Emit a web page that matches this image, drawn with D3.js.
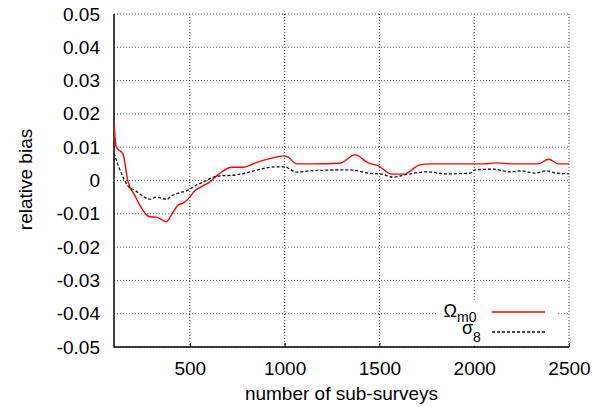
<!DOCTYPE html>
<html>
<head>
<meta charset="utf-8">
<script src="https://cdn.jsdelivr.net/npm/d3@7"></script>
<style>
  html, body { margin: 0; padding: 0; background: #fff; }
  svg { display: block; font-family: "Liberation Sans", Arial, Helvetica, sans-serif; }
</style>
</head>
<body>
<svg id="chart" width="602" height="407"></svg>
<script>
// ---- data ----
const xTicks = [500, 1000, 1500, 2000, 2500];
const xGrid = [100, 500, 1000, 1500, 2000, 2500];
const yTicks = [0.05, 0.04, 0.03, 0.02, 0.01, 0, -0.01, -0.02, -0.03, -0.04, -0.05];

const omegaX = [100,112,147,174,209,236,288,323,376,402,438,464,490,526,560,606,659,721,782,861,932,993,1019,1064,1134,1292,1371,1442,1495,1565,1627,1714,1767,1900,2050,2118,2200,2339,2392,2445,2500];
const omegaY = [0.0172,0.0100,0.0080,-0.0004,-0.0044,-0.0074,-0.0109,-0.0110,-0.0124,-0.0104,-0.0074,-0.0068,-0.0056,-0.0031,-0.0019,-0.0004,0.0022,0.0040,0.0040,0.0056,0.0067,0.0074,0.0070,0.0050,0.0050,0.0052,0.0077,0.0053,0.0044,0.0019,0.0019,0.0047,0.0050,0.0050,0.0050,0.0053,0.0050,0.0050,0.0064,0.0050,0.0050];

const sigmaX = [100,121,147,174,209,253,288,323,376,411,447,490,534,570,642,747,817,879,958,1002,1028,1064,1134,1345,1442,1512,1573,1635,1749,1855,1978,2004,2100,2189,2250,2320,2382,2435,2500];
const sigmaY = [0.0082,0.0047,0.0011,-0.0017,-0.0029,-0.0047,-0.0056,-0.0050,-0.0056,-0.0044,-0.0037,-0.0029,-0.0014,-0.0005,0.0013,0.0017,0.0026,0.0035,0.0041,0.0041,0.0034,0.0025,0.0029,0.0032,0.0022,0.0019,0.0010,0.0017,0.0026,0.0020,0.0022,0.0032,0.0034,0.0026,0.0029,0.0022,0.0029,0.0022,0.0020];

// ---- layout ----
const svg = d3.select("#chart");
const L = 114, R = 569, T = 14, B = 347;
const x = d3.scaleLinear().domain([100, 2500]).range([L, R]);
const y = d3.scaleLinear().domain([-0.05, 0.05]).range([B, T]);
const FS = 19;

// grid
const grid = svg.append("g");
grid.selectAll("line.h").data(yTicks).join("line")
  .attr("x1", L).attr("x2", R)
  .attr("y1", d => y(d)).attr("y2", d => y(d))
  .attr("stroke", "#666").attr("stroke-width", 1).attr("stroke-dasharray", "1,2");
grid.selectAll("line.v").data(xGrid.slice(1)).join("line")
  .attr("x1", d => x(d)).attr("x2", d => x(d))
  .attr("y1", T).attr("y2", B)
  .attr("stroke", "#444").attr("stroke-width", 1).attr("stroke-dasharray", "1,2");

// axes
const xAxis = d3.axisBottom(x).tickValues(xTicks).tickSize(0).tickPadding(0).tickFormat(d3.format("d"));
const gx = svg.append("g").attr("transform", `translate(0,${B})`).call(xAxis);
gx.select(".domain").remove();
gx.selectAll("text").attr("font-size", FS).attr("fill", "#000").attr("dy", null).attr("y", 28)
  .attr("font-family", "Liberation Sans, Arial, sans-serif");
gx.selectAll(".tick").append("line").attr("y1", 0).attr("y2", -4).attr("stroke", "#000");

const yAxis = d3.axisLeft(y).tickValues(yTicks).tickSize(0).tickPadding(14)
  .tickFormat(d => d === 0 ? "0" : d.toFixed(2));
const gy = svg.append("g").attr("transform", `translate(${L},0)`).call(yAxis);
gy.select(".domain").remove();
gy.selectAll("text").attr("font-size", FS).attr("fill", "#000")
  .attr("font-family", "Liberation Sans, Arial, sans-serif");

// axis frame lines
svg.append("line").attr("x1", L).attr("x2", L).attr("y1", T).attr("y2", B + 0.5)
  .attr("stroke", "#000").attr("stroke-width", 1.5);
svg.append("line").attr("x1", L).attr("x2", R).attr("y1", B).attr("y2", B)
  .attr("stroke", "#000").attr("stroke-width", 1.5);

// titles
svg.append("text").attr("x", (L + R) / 2).attr("y", 400).attr("text-anchor", "middle")
  .attr("font-size", FS).text("number of sub-surveys");
svg.append("text").attr("transform", `translate(32,${(T + B) / 2 - 1}) rotate(-90)`)
  .attr("text-anchor", "middle").attr("font-size", FS).text("relative bias");

// lines
svg.append("clipPath").attr("id", "clip").append("rect")
  .attr("x", L).attr("y", T).attr("width", R - L).attr("height", B - T);
const line = d3.line().x(d => x(d[0])).y(d => y(d[1])).curve(d3.curveMonotoneX);
const omega = omegaX.map((v, i) => [v, omegaY[i]]);
const sigma = sigmaX.map((v, i) => [v, sigmaY[i]]);

// legend background
svg.append("rect").attr("x", 438).attr("y", 301).attr("width", 120).attr("height", B - 301 - 1)
  .attr("fill", "#fff");

svg.append("path").datum(omega).attr("d", line).attr("clip-path", "url(#clip)")
  .attr("fill", "none").attr("stroke", "#ff0000").attr("stroke-width", 1.4);
svg.append("path").datum(sigma).attr("d", line).attr("clip-path", "url(#clip)")
  .attr("fill", "none").attr("stroke", "#111").attr("stroke-width", 1.3).attr("stroke-dasharray", "3,2");

// legend (separate text pieces so the tight stacking mirrors the reference)
const lg = svg.append("g");
lg.append("text").attr("x", 457).attr("y", 317).attr("text-anchor", "end").attr("font-size", 18).text("Ω");
lg.append("text").attr("x", 457).attr("y", 322).attr("text-anchor", "start").attr("font-size", 14).text("m0");
lg.append("text").attr("x", 473).attr("y", 334).attr("text-anchor", "end").attr("font-size", 18).text("σ");
lg.append("text").attr("x", 473).attr("y", 342).attr("text-anchor", "start").attr("font-size", 14).text("8");
lg.append("line").attr("x1", 492).attr("x2", 545).attr("y1", 312).attr("y2", 312)
  .attr("stroke", "#ff0000").attr("stroke-width", 1.4);
lg.append("line").attr("x1", 492).attr("x2", 545).attr("y1", 332).attr("y2", 332)
  .attr("stroke", "#111").attr("stroke-width", 1.3).attr("stroke-dasharray", "3,2");
</script>
</body>
</html>
